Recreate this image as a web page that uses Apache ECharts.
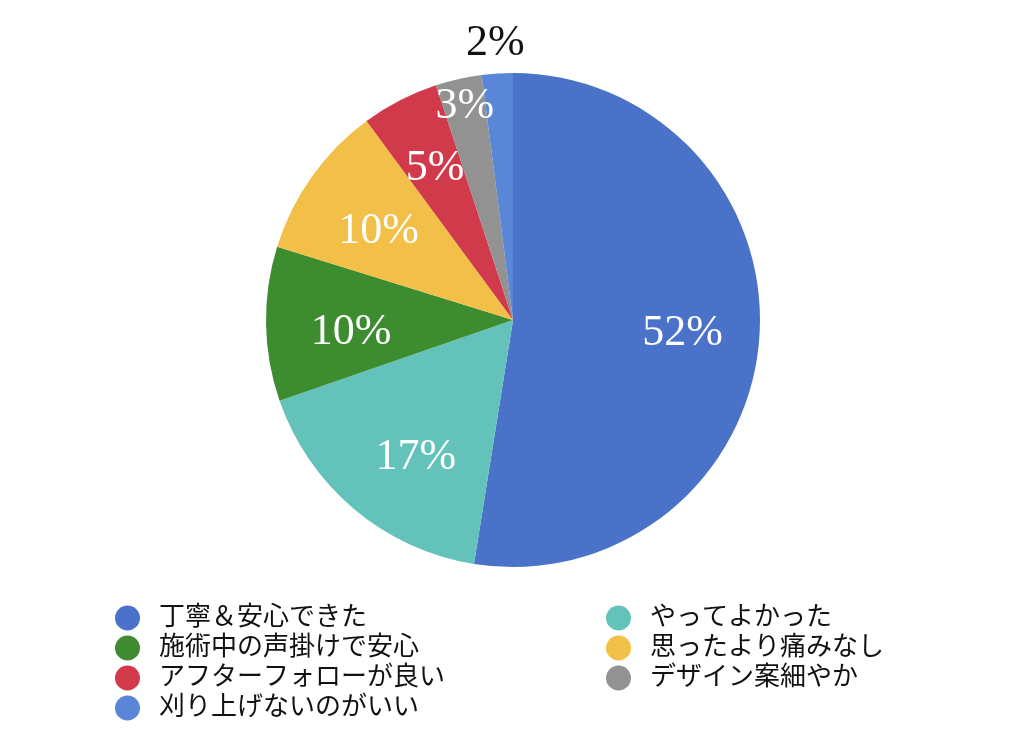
<!DOCTYPE html>
<html><head><meta charset="utf-8">
<script src="https://cdn.jsdelivr.net/npm/echarts@6/dist/echarts.min.js"></script>
<style>html,body{margin:0;padding:0;background:#fff}#c{width:1024px;height:751px}</style>
</head><body><div id="c"></div>
<script>
var categories = ['丁寧＆安心できた','やってよかった','施術中の声掛けで安心','思ったより痛みなし','アフターフォローが良い','デザイン案細やか','刈り上げないのがいい'];
var values = [52, 17, 10, 10, 5, 3, 2];
var colors = ['#4a72c9','#63c2b9','#3e8c30','#f2bf48','#d03a4a','#929292','#5a86d8'];
var leftLegend = [categories[0], categories[2], categories[4], categories[6]];
var rightLegend = [categories[1], categories[3], categories[5]];

// which ring each percentage label sits on (label placement only)
var labelRing = ['inner','inner','inner','inner','inner','mid','outer'];
var labelNudge = { 1: [12, 7], 2: [8, 10], 3: [4, 10] };

var center = [513, 320];
var R = 247;
var serif = "'Liberation Serif', 'Noto Sans CJK JP', serif";

var base = categories.map(function (n, i) {
  return { name: n, value: values[i], itemStyle: { color: colors[i] } };
});

function overlay(ring, radius, color) {
  return {
    type: 'pie', center: center, radius: radius, startAngle: 90, clockwise: true, silent: true,
    avoidLabelOverlap: false,
    labelLine: { show: false },
    label: { show: true, position: 'inside', formatter: '{c}%', color: color,
      fontFamily: serif, fontSize: 44 },
    labelLayout: function (p) {
      var n = ring === 'inner' ? labelNudge[p.dataIndex] : null;
      return n ? { dx: n[0], dy: n[1], hideOverlap: false } : { hideOverlap: false };
    },
    data: categories.map(function (n, i) {
      return { name: n, value: values[i], itemStyle: { color: 'rgba(0,0,0,0)' },
        label: { show: labelRing[i] === ring } };
    })
  };
}

var legendCommon = {
  orient: 'vertical', top: 600, itemWidth: 25, itemHeight: 25, itemGap: 4, icon: 'circle',
  selectedMode: false,
  textStyle: { fontFamily: serif, fontSize: 26, lineHeight: 25, color: '#111', padding: [0, 0, 0, 14] }
};

var chart = echarts.init(document.getElementById('c'));
chart.setOption({
  backgroundColor: '#fff',
  animation: false,
  legend: [
    Object.assign({}, legendCommon, { left: 110, data: leftLegend }),
    Object.assign({}, legendCommon, { left: 601, data: rightLegend })
  ],
  series: [
    { type: 'pie', center: center, radius: [0, R], startAngle: 90, clockwise: true,
      label: { show: false }, labelLine: { show: false }, silent: true,
      itemStyle: { borderWidth: 0 }, data: base },
    overlay('inner', [87, R], '#fff'),
    overlay('mid', [185, R], '#fff'),
    overlay('outer', [R, R + 54], '#111')
  ]
});
</script></body></html>
